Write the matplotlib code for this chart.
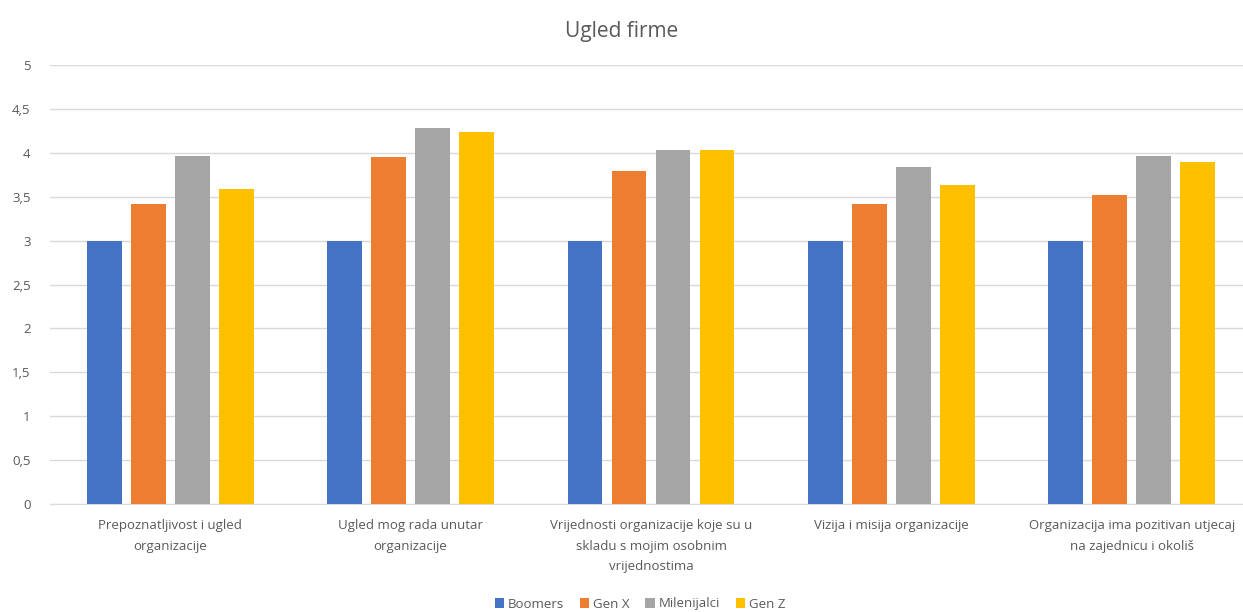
import numpy as np
import matplotlib.pyplot as plt
from matplotlib.ticker import FuncFormatter

plt.rcParams['font.family'] = ['Open Sans', 'DejaVu Sans']

categories = [
    "Prepoznatljivost i ugled\norganizacije",
    "Ugled mog rada unutar\norganizacije",
    "Vrijednosti organizacije koje su u\nskladu s mojim osobnim\nvrijednostima",
    "Vizija i misija organizacije",
    "Organizacija ima pozitivan utjecaj\nna zajednicu i okoliš",
]
series = ["Boomers", "Gen X", "Milenijalci", "Gen Z"]
boomers = [3.0, 3.0, 3.0, 3.0, 3.0]
gen_x = [3.42, 3.95, 3.79, 3.42, 3.52]
milenijalci = [3.96, 4.28, 4.03, 3.84, 3.96]
gen_z = [3.59, 4.24, 4.03, 3.63, 3.90]
colors = ["#4472C4", "#ED7D31", "#A5A5A5", "#FFC000"]

values = [boomers, gen_x, milenijalci, gen_z]

fig = plt.figure(figsize=(12.43, 6.12), dpi=100)
ax = fig.add_axes([50 / 1243, 108 / 612, 1202 / 1243, 439 / 612])

x = np.arange(len(categories))
step = 0.183
width = 0.145
for i, (name, vals) in enumerate(zip(series, values)):
    ax.bar(x + (i - 1.5) * step, vals, width, color=colors[i], label=name, zorder=3)

ax.set_xlim(-0.5, len(categories) - 0.5)
ax.set_ylim(0, 5)
ax.set_yticks(np.arange(0, 5.01, 0.5))
ax.yaxis.set_major_formatter(FuncFormatter(lambda v, p: ("%g" % v).replace(".", ",")))
ax.grid(axis="y", color="#d9d9d9", linewidth=1, zorder=0)
for s in ["top", "right", "left"]:
    ax.spines[s].set_visible(False)
ax.spines["bottom"].set_color("#d9d9d9")
ax.tick_params(axis="both", length=0, colors="#595959", labelsize=9.5)
ax.tick_params(axis="y", pad=14)
ax.set_xticks(x)
ax.set_xticklabels(categories, linespacing=1.75)
ax.tick_params(axis="x", pad=11)

fig.suptitle("Ugled firme", y=0.965, fontsize=15, color="#595959")

ax.legend(loc="center", ncol=4, frameon=False,
          fontsize=9.5, labelcolor="#595959", handlelength=0.7, handleheight=0.7,
          handletextpad=0.3, columnspacing=1.2,
          bbox_to_anchor=(640 / 1243, 8 / 612), bbox_transform=fig.transFigure)

fig.savefig("out.png", dpi=100)
